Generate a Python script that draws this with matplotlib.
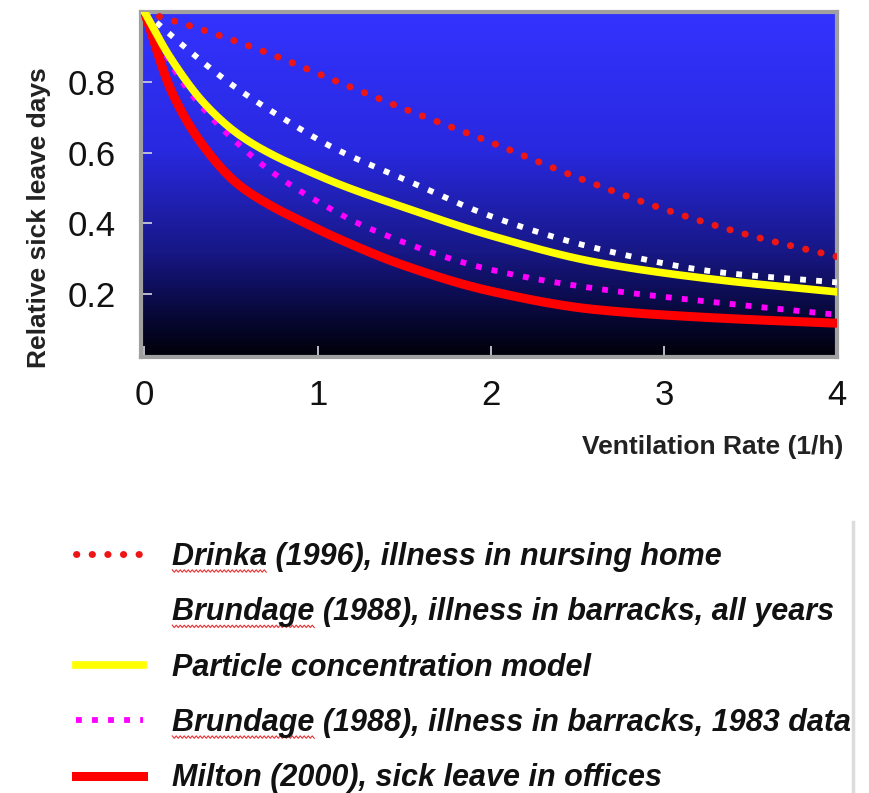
import numpy as np
import matplotlib
matplotlib.use('Agg')
import matplotlib.pyplot as plt
from matplotlib.colors import LinearSegmentedColormap

plt.rcParams['font.family'] = ['Liberation Sans', 'DejaVu Sans']

# values
drinka_x = [0, 0.35, 0.7, 1.1, 1.5, 2.0, 2.5, 3.0, 3.5, 4.0]
drinka_y = [1.0, 0.947, 0.886, 0.805, 0.725, 0.63, 0.53, 0.44, 0.365, 0.305]

brund_all_x = [0, 0.2, 0.5, 0.8, 1.1, 1.5, 2.0, 2.6, 3.3, 4.0]
brund_all_y = [1.0, 0.914, 0.795, 0.698, 0.612, 0.525, 0.42, 0.33, 0.262, 0.232]

particle_x = [0, 0.15, 0.35, 0.55, 0.75, 0.95, 1.15, 1.5, 2.0, 2.6, 3.3, 4.0]
particle_y = [1.0, 0.87, 0.738, 0.65, 0.592, 0.547, 0.506, 0.445, 0.365, 0.29, 0.24, 0.205]

brund_83_x = [0, 0.1, 0.22, 0.35, 0.47, 0.74, 1.06, 1.3, 2.0, 2.6, 3.3, 4.0]
brund_83_y = [1.0, 0.9, 0.8, 0.72, 0.658, 0.544, 0.445, 0.385, 0.268, 0.215, 0.175, 0.14]

milton_x = [0, 0.154, 0.347, 0.54, 0.73, 0.93, 1.12, 1.5, 2.0, 2.6, 3.3, 4.0]
milton_y = [1.0, 0.777, 0.615, 0.511, 0.45, 0.40, 0.356, 0.28, 0.207, 0.155, 0.131, 0.116]

labels = ['Drinka (1996), illness in nursing home',
          'Brundage (1988), illness in barracks, all years',
          'Particle concentration model',
          'Brundage (1988), illness in barracks, 1983 data',
          'Milton (2000), sick leave in offices']
# words marked by the spell checker in the original slide
flagged = ['Drinka', 'Brundage']

x_ticks = [0, 1, 2, 3, 4]
y_ticks = [0.2, 0.4, 0.6, 0.8]


def smooth(xs, ys, n=200):
    # monotone piecewise-cubic through the read points
    xs = np.asarray(xs, float)
    ys = np.asarray(ys, float)
    h = np.diff(xs)
    d = np.diff(ys) / h
    m = np.zeros_like(ys)
    m[0], m[-1] = d[0], d[-1]
    for i in range(1, len(xs) - 1):
        if d[i - 1] * d[i] > 0:
            w1 = 2 * h[i] + h[i - 1]
            w2 = h[i] + 2 * h[i - 1]
            m[i] = (w1 + w2) / (w1 / d[i - 1] + w2 / d[i])
    xx = np.linspace(xs[0], xs[-1], n)
    idx = np.clip(np.searchsorted(xs, xx) - 1, 0, len(xs) - 2)
    t = (xx - xs[idx]) / h[idx]
    h00 = 2 * t**3 - 3 * t**2 + 1
    h10 = t**3 - 2 * t**2 + t
    h01 = -2 * t**3 + 3 * t**2
    h11 = t**3 - t**2
    yy = h00 * ys[idx] + h10 * h[idx] * m[idx] + h01 * ys[idx + 1] + h11 * h[idx] * m[idx + 1]
    return xx, yy


fig = plt.figure(figsize=(8.7, 7.93), dpi=100)
ax = fig.add_axes([141 / 870, 1 - 357 / 793, 696 / 870, 345 / 793])

xlim = (-0.02, 4.0)
ylim = (0.02, 1.0)

# blue-to-black background
bg = LinearSegmentedColormap.from_list('bg', [
    (0.0, (0.0, 0.0, 0.03)),
    (0.12, (0.03, 0.03, 0.22)),
    (0.3, (0.09, 0.09, 0.52)),
    (0.6, (0.16, 0.16, 0.88)),
    (1.0, (0.2, 0.2, 1.0))])
grad = np.linspace(0, 1, 256).reshape(-1, 1)
ax.imshow(grad, cmap=bg, origin='lower', aspect='auto',
          extent=[xlim[0], xlim[1], ylim[0], ylim[1]], zorder=0)

lines = {}
x, y = smooth(drinka_x, drinka_y)
lines[0], = ax.plot(x, y, color='#ee1515', lw=5, linestyle=(0, (0.05, 2.2)),
                    dash_capstyle='round', zorder=3)
x, y = smooth(brund_all_x, brund_all_y)
lines[1], = ax.plot(x, y, color='white', lw=4.2, linestyle=(0, (1, 1.75)),
                    zorder=3)
x, y = smooth(brund_83_x, brund_83_y)
lines[3], = ax.plot(x, y, color='#ff00ff', lw=4.2, linestyle=(0, (1, 1.75)),
                    zorder=3)
x, y = smooth(particle_x, particle_y)
lines[2], = ax.plot(x, y, color='#ffff00', lw=5.5, zorder=4)
x, y = smooth(milton_x, milton_y)
lines[4], = ax.plot(x, y, color='#ff0000', lw=6.5, zorder=3)

ax.set_xlim(*xlim)
ax.set_ylim(*ylim)
ax.set_xticks(x_ticks)
ax.set_xticklabels([str(v) for v in x_ticks])
ax.set_yticks(y_ticks)
ax.set_yticklabels(['%.1f' % v for v in y_ticks])
ax.tick_params(axis='both', direction='in', length=8, width=1.3,
               color='#c8c8d8')
ax.tick_params(axis='x', labelsize=25, pad=16, colors='#c8c8d8',
               labelcolor='#111111')
ax.tick_params(axis='y', labelsize=25, pad=18, colors='#c8c8d8',
               labelcolor='#111111')
for s in ax.spines.values():
    s.set_color('#a0a0a0')
    s.set_linewidth(3)

ax.set_ylabel('Relative sick leave days', fontsize=19, fontweight='bold',
              color='#222222')
ax.yaxis.set_label_coords(-0.146, 0.403)
ax.yaxis.label.set_va('center')
ax.set_xlabel('Ventilation Rate (1/h)', fontsize=19, fontweight='bold',
              color='#222222', ha='right')
ax.xaxis.set_label_coords(1.009, -0.261)
ax.xaxis.label.set_va('center')

leg_font = {'size': 22, 'weight': 'bold', 'style': 'italic'}
leg = fig.legend([lines[i] for i in range(5)], labels,
                 loc='upper left', bbox_to_anchor=(76 / 870, 1 - 542 / 793),
                 frameon=False, borderpad=0, borderaxespad=0, prop=leg_font,
                 handlelength=2.2, handletextpad=0.95, labelspacing=0.83)
for t in leg.get_texts():
    t.set_color('#111111')

# red wavy spell-check underline under the author names
fig.canvas.draw()
renderer = fig.canvas.get_renderer()
W, H = fig.bbox.width, fig.bbox.height
for t in leg.get_texts():
    word = t.get_text().split(' ')[0]
    if word not in flagged:
        continue
    bb = t.get_window_extent(renderer)
    probe = fig.text(0, 0, word, fontproperties=t.get_fontproperties())
    wlen = probe.get_window_extent(renderer).width
    probe.remove()
    zx = np.arange(bb.x0, bb.x0 + wlen, 2.0)
    zy = bb.y0 + 1.0 + np.where(np.arange(len(zx)) % 2 == 0, 1.2, -1.2)
    fig.add_artist(plt.Line2D(zx / W, zy / H, transform=fig.transFigure,
                              color='#e83030', lw=0.8))

# grey edge of the box on the right
fig.add_artist(plt.Line2D([853 / 870, 853 / 870], [0, 1 - 522 / 793],
                          transform=fig.transFigure, color='#dcdcdc', lw=2.5))

fig.savefig('out.png', dpi=100, facecolor='white')
